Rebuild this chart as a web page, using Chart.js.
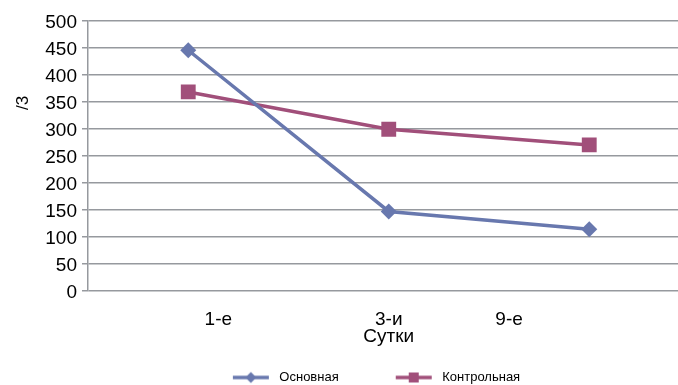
<!DOCTYPE html>
<html>
<head>
<meta charset="utf-8">
<script src="https://cdn.jsdelivr.net/npm/chart.js@4/dist/chart.umd.min.js"></script>
<style>
  html, body { margin: 0; padding: 0; overflow: hidden; background: #fff; }
  canvas { display: block; }
</style>
</head>
<body>
<canvas id="grafico" width="700" height="394"></canvas>
<script>
const dias = ['1-е', '3-и', '9-е'];
const osnovnaya = [445, 147, 114];
const kontrolnaya = [368, 299, 270];
const yTicks = [0, 50, 100, 150, 200, 250, 300, 350, 400, 450, 500];

// onde os rótulos do eixo x aparecem (em unidades de categoria, 0..3)
const posRotulos = [0.65, 1.5, 2.1];

const corAzul = '#6878ae';
const corVinho = '#a14f7a';
const corGrade = '#96999e';
const fonte = 'Liberation Sans';

// ícone da legenda: linha + marcador, com espaço em branco à esquerda
function iconeLegenda(cor, tipo) {
    const c = document.createElement('canvas');
    c.width = 87;
    c.height = 16;
    const g = c.getContext('2d');
    g.strokeStyle = cor;
    g.fillStyle = cor;
    g.lineWidth = 3.5;
    g.beginPath();
    g.moveTo(47, 8);
    g.lineTo(83, 8);
    g.stroke();
    if (tipo === 'losango') {
        g.beginPath();
        g.moveTo(65, 2.5);
        g.lineTo(70.5, 8);
        g.lineTo(65, 13.5);
        g.lineTo(59.5, 8);
        g.closePath();
        g.fill();
    } else {
        g.fillRect(60, 3, 10, 10);
    }
    return c;
}

const icones = [iconeLegenda(corAzul, 'losango'), iconeLegenda(corVinho, 'quadrado')];

const rotuloY = {
    id: 'rotuloY',
    afterDraw(chart) {
        const ctx = chart.ctx;
        ctx.save();
        ctx.translate(23, 103);
        ctx.rotate(-Math.PI / 2);
        ctx.font = `17px "${fonte}"`;
        ctx.fillStyle = '#000';
        ctx.textAlign = 'center';
        ctx.textBaseline = 'middle';
        ctx.fillText('/3', 0, 0);
        ctx.restore();
    }
};

const ctx = document.getElementById('grafico').getContext('2d');
new Chart(ctx, {
    type: 'line',
    data: {
        labels: dias,
        datasets: [{
            label: 'Основная',
            data: osnovnaya,
            borderColor: corAzul,
            backgroundColor: corAzul,
            borderWidth: 3.5,
            pointStyle: 'rectRot',
            pointRadius: 8,
            pointBorderWidth: 0,
            pointHoverRadius: 8,
            tension: 0
        }, {
            label: 'Контрольная',
            data: kontrolnaya,
            borderColor: corVinho,
            backgroundColor: corVinho,
            borderWidth: 3.5,
            pointStyle: 'rect',
            pointRadius: 10.5,
            pointBorderWidth: 0,
            pointHoverRadius: 10.5,
            tension: 0
        }]
    },
    options: {
        responsive: false,
        animation: false,
        devicePixelRatio: 1,
        layout: { padding: { left: 15, right: 9, top: 20.5, bottom: 0 } },
        scales: {
            x: {
                type: 'category',
                display: false,
                offset: true
            },
            xl: {
                type: 'linear',
                position: 'bottom',
                weight: 1,
                min: 0,
                max: 3,
                grid: { display: false, drawTicks: false },
                border: { display: false },
                afterBuildTicks: axis => {
                    axis.ticks = posRotulos.map(v => ({ value: v }));
                },
                afterFit: axis => { axis.height = 70; },
                ticks: {
                    autoSkip: false,
                    maxRotation: 0,
                    padding: 17,
                    color: '#000',
                    font: { family: fonte, size: 19 },
                    callback: (v, i) => dias[i]
                },
                title: {
                    display: true,
                    text: 'Сутки',
                    color: '#000',
                    font: { family: fonte, size: 19 },
                    padding: { top: 0, bottom: 12.6 }
                }
            },
            y: {
                min: 0,
                max: 500,
                afterBuildTicks: axis => {
                    axis.ticks = yTicks.map(v => ({ value: v }));
                },
                afterFit: axis => { axis.width = 73; },
                grid: {
                    color: corGrade,
                    lineWidth: 1.5,
                    drawTicks: true,
                    tickLength: 6
                },
                border: { display: true, color: corGrade, width: 1.5 },
                ticks: {
                    padding: 5,
                    labelOffset: 2,
                    color: '#000',
                    font: { family: fonte, size: 19 }
                }
            }
        },
        plugins: {
            legend: {
                position: 'bottom',
                labels: {
                    usePointStyle: true,
                    pointStyleWidth: 87,
                    padding: 10,
                    color: '#000',
                    font: { family: fonte, size: 13 },
                    generateLabels: chart => {
                        const itens = Chart.defaults.plugins.legend.labels.generateLabels(chart);
                        return itens.map((item, i) => ({ ...item, pointStyle: icones[i] }));
                    }
                }
            },
            tooltip: { enabled: false }
        }
    },
    plugins: [rotuloY]
});
</script>
</body>
</html>
